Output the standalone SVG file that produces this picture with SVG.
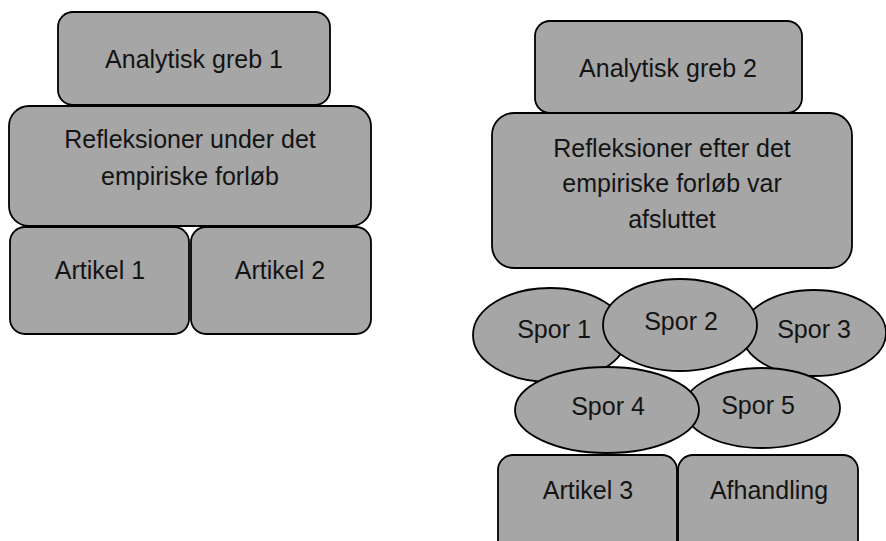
<svg xmlns="http://www.w3.org/2000/svg" width="886" height="541" viewBox="0 0 886 541">
<style>
.box{fill:#a6a6a6;stroke:#000;stroke-width:1.8}
.t{font-family:"Liberation Sans",Arial,sans-serif;font-size:25px;fill:#141414;text-anchor:middle}
</style>
<rect width="886" height="541" fill="#fff"/>
<g id="analytisk1"><rect class="box" x="58" y="12" width="272" height="93" rx="15"/><text class="t" x="194" y="68">Analytisk greb 1</text></g>
<g id="refl1"><rect class="box" x="9" y="106" width="362" height="120" rx="20"/><text class="t" x="190" y="148">Refleksioner under det</text><text class="t" x="190" y="185">empiriske forløb</text></g>
<g id="artikel1"><rect class="box" x="10" y="227" width="179" height="107" rx="15"/><text class="t" x="100" y="279">Artikel 1</text></g>
<g id="artikel2"><rect class="box" x="191" y="227" width="180" height="107" rx="15"/><text class="t" x="280" y="279">Artikel 2</text></g>
<g id="analytisk2"><rect class="box" x="535" y="21" width="267" height="92" rx="15"/><text class="t" x="668" y="77">Analytisk greb 2</text></g>
<g id="refl2"><rect class="box" x="492" y="113" width="360" height="155" rx="22"/><text class="t" x="672" y="157">Refleksioner efter det</text><text class="t" x="672" y="192">empiriske forløb var</text><text class="t" x="672" y="228">afsluttet</text></g>
<g id="spor1"><ellipse class="box" cx="550" cy="335" rx="77" ry="47"/><text class="t" x="554" y="338">Spor 1</text></g>
<g id="spor3"><ellipse class="box" cx="814" cy="333" rx="72" ry="43"/><text class="t" x="814" y="338">Spor 3</text></g>
<g id="spor5"><ellipse class="box" cx="762" cy="408" rx="78" ry="40"/><text class="t" x="758" y="414">Spor 5</text></g>
<g id="spor2"><ellipse class="box" cx="680" cy="325" rx="77" ry="46"/><text class="t" x="681" y="330">Spor 2</text></g>
<g id="spor4"><ellipse class="box" cx="607" cy="410" rx="92" ry="43"/><text class="t" x="608" y="415">Spor 4</text></g>
<g id="artikel3"><rect class="box" x="498" y="455" width="179" height="110" rx="15"/><text class="t" x="588" y="499">Artikel 3</text></g>
<g id="afhandling"><rect class="box" x="678" y="455" width="180" height="110" rx="15"/><text class="t" x="769" y="499">Afhandling</text></g>
<g id="connectors"/>
</svg>
